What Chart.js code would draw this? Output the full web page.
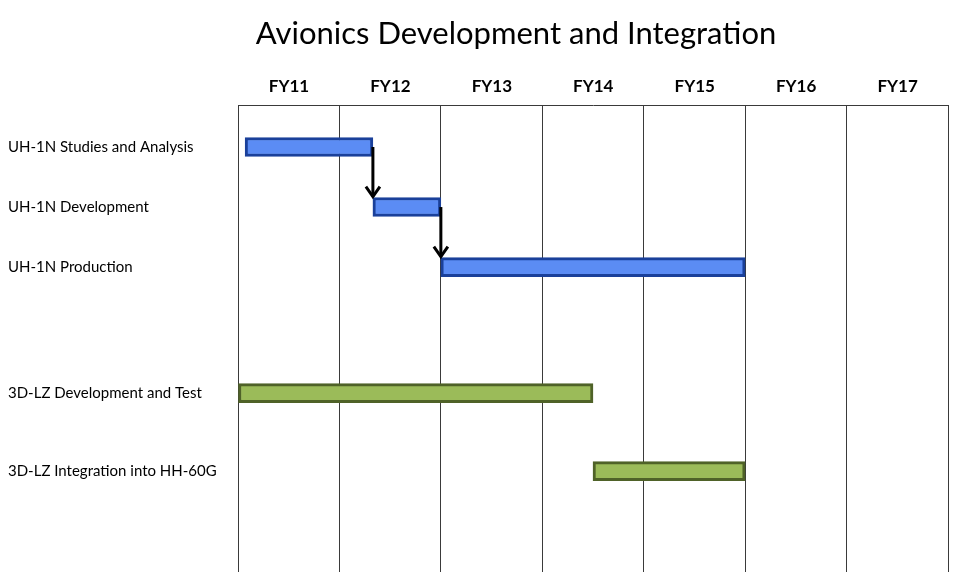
<!DOCTYPE html>
<html><head><meta charset="utf-8">
<script src="https://cdn.jsdelivr.net/npm/chart.js@4/dist/chart.umd.min.js"></script>
<style>html,body{margin:0;padding:0;background:#fff}</style>
</head><body>
<canvas id="c" width="958" height="580"></canvas>
<script>
// ---- data ----
const chartTitle = 'Avionics Development and Integration';
const fiscalYears = ['FY11', 'FY12', 'FY13', 'FY14', 'FY15', 'FY16', 'FY17'];
const tasks = ['UH-1N Studies and Analysis', 'UH-1N Development', 'UH-1N Production',
               '3D-LZ Development and Test', '3D-LZ Integration into HH-60G'];
const taskStart = [0.07, 1.33, 2.0, 0.0, 3.5];   // in fiscal years from start of FY11
const taskEnd   = [1.33, 2.0, 5.0, 3.5, 5.0];
const taskGroup = ['UH-1N', 'UH-1N', 'UH-1N', '3D-LZ', '3D-LZ'];
const dependencies = [[0, 1], [1, 2]];

// ---- layout / style ----
const rowSlot = [0.7, 1.7, 2.7, 4.8, 6.1];
const fills = { 'UH-1N': '#5b8cf4', '3D-LZ': '#9bbb59' };
const strokes = { 'UH-1N': '#1a409a', '3D-LZ': '#4f6228' };
const BAR_H = 19;
const FONT = 'Lato, "Open Sans", sans-serif';

const titlePlugin = {
  id: 'customTitle',
  afterDraw(chart) {
    const ctx = chart.ctx;
    ctx.save();
    ctx.font = '31px ' + FONT;
    ctx.fillStyle = '#000';
    ctx.textAlign = 'center';
    ctx.textBaseline = 'middle';
    ctx.fillText(chartTitle, 516, 34);
    ctx.restore();
  }
};

const arrowPlugin = {
  id: 'depArrows',
  afterDatasetsDraw(chart) {
    const ctx = chart.ctx;
    const xs = chart.scales.x, ys = chart.scales.y;
    ctx.save();
    ctx.strokeStyle = '#000';
    ctx.lineWidth = 3;
    ctx.lineJoin = 'miter';
    dependencies.forEach(([a, b]) => {
      const x = xs.getPixelForValue(taskEnd[a]);
      const y1 = ys.getPixelForValue(rowSlot[a]);
      const y2 = ys.getPixelForValue(rowSlot[b]) - BAR_H / 2 - 1;
      ctx.beginPath();
      ctx.moveTo(x, y1);
      ctx.lineTo(x, y2);
      ctx.stroke();
      ctx.beginPath();
      ctx.moveTo(x - 7, y2 - 10);
      ctx.lineTo(x, y2);
      ctx.lineTo(x + 7, y2 - 10);
      ctx.stroke();
    });
    ctx.restore();
  }
};

new Chart(document.getElementById('c'), {
  type: 'bar',
  data: {
    datasets: [{
      data: tasks.map((t, i) => ({ x: [taskStart[i], taskEnd[i]], y: rowSlot[i] })),
      backgroundColor: taskGroup.map(g => fills[g]),
      borderColor: taskGroup.map(g => strokes[g]),
      borderWidth: 3,
      borderSkipped: false,
      barThickness: BAR_H
    }]
  },
  options: {
    indexAxis: 'y',
    responsive: false,
    animation: false,
    layout: { padding: { left: 8, right: 10, top: 65, bottom: 8 } },
    plugins: { legend: { display: false }, tooltip: { enabled: false }, title: { display: false } },
    scales: {
      x: {
        type: 'linear',
        position: 'top',
        min: 0, max: 7,
        afterBuildTicks: s => { s.ticks = [0,1,2,3,4,5,6,7].map(v => ({ value: v })); },
        afterFit: s => { s.height = 40; },
        ticks: {
          autoSkip: false,
          maxRotation: 0,
          callback: (v, i) => fiscalYears[i] || '',
          labelOffset: 51,
          padding: 8,
          color: '#000',
          font: { family: FONT, size: 17, weight: 'bold' }
        },
        grid: { color: '#3a3a3a', lineWidth: 1, drawTicks: false },
        border: { display: true, color: '#3a3a3a', width: 1 }
      },
      y: {
        type: 'linear',
        position: 'left',
        reverse: true,
        offset: false,
        grace: 0,
        min: 0, max: 7.78,
        afterBuildTicks: s => { s.ticks = rowSlot.map(v => ({ value: v })); },
        afterFit: s => { s.width = 230; s.paddingTop = 0; s.paddingBottom = 0; },
        ticks: {
          autoSkip: false,
          crossAlign: 'far',
          callback: (v, i) => tasks[i],
          color: '#000',
          font: { family: FONT, size: 15 }
        },
        grid: { display: false },
        border: { display: false }
      }
    }
  },
  plugins: [titlePlugin, arrowPlugin]
});
</script>
</body></html>
